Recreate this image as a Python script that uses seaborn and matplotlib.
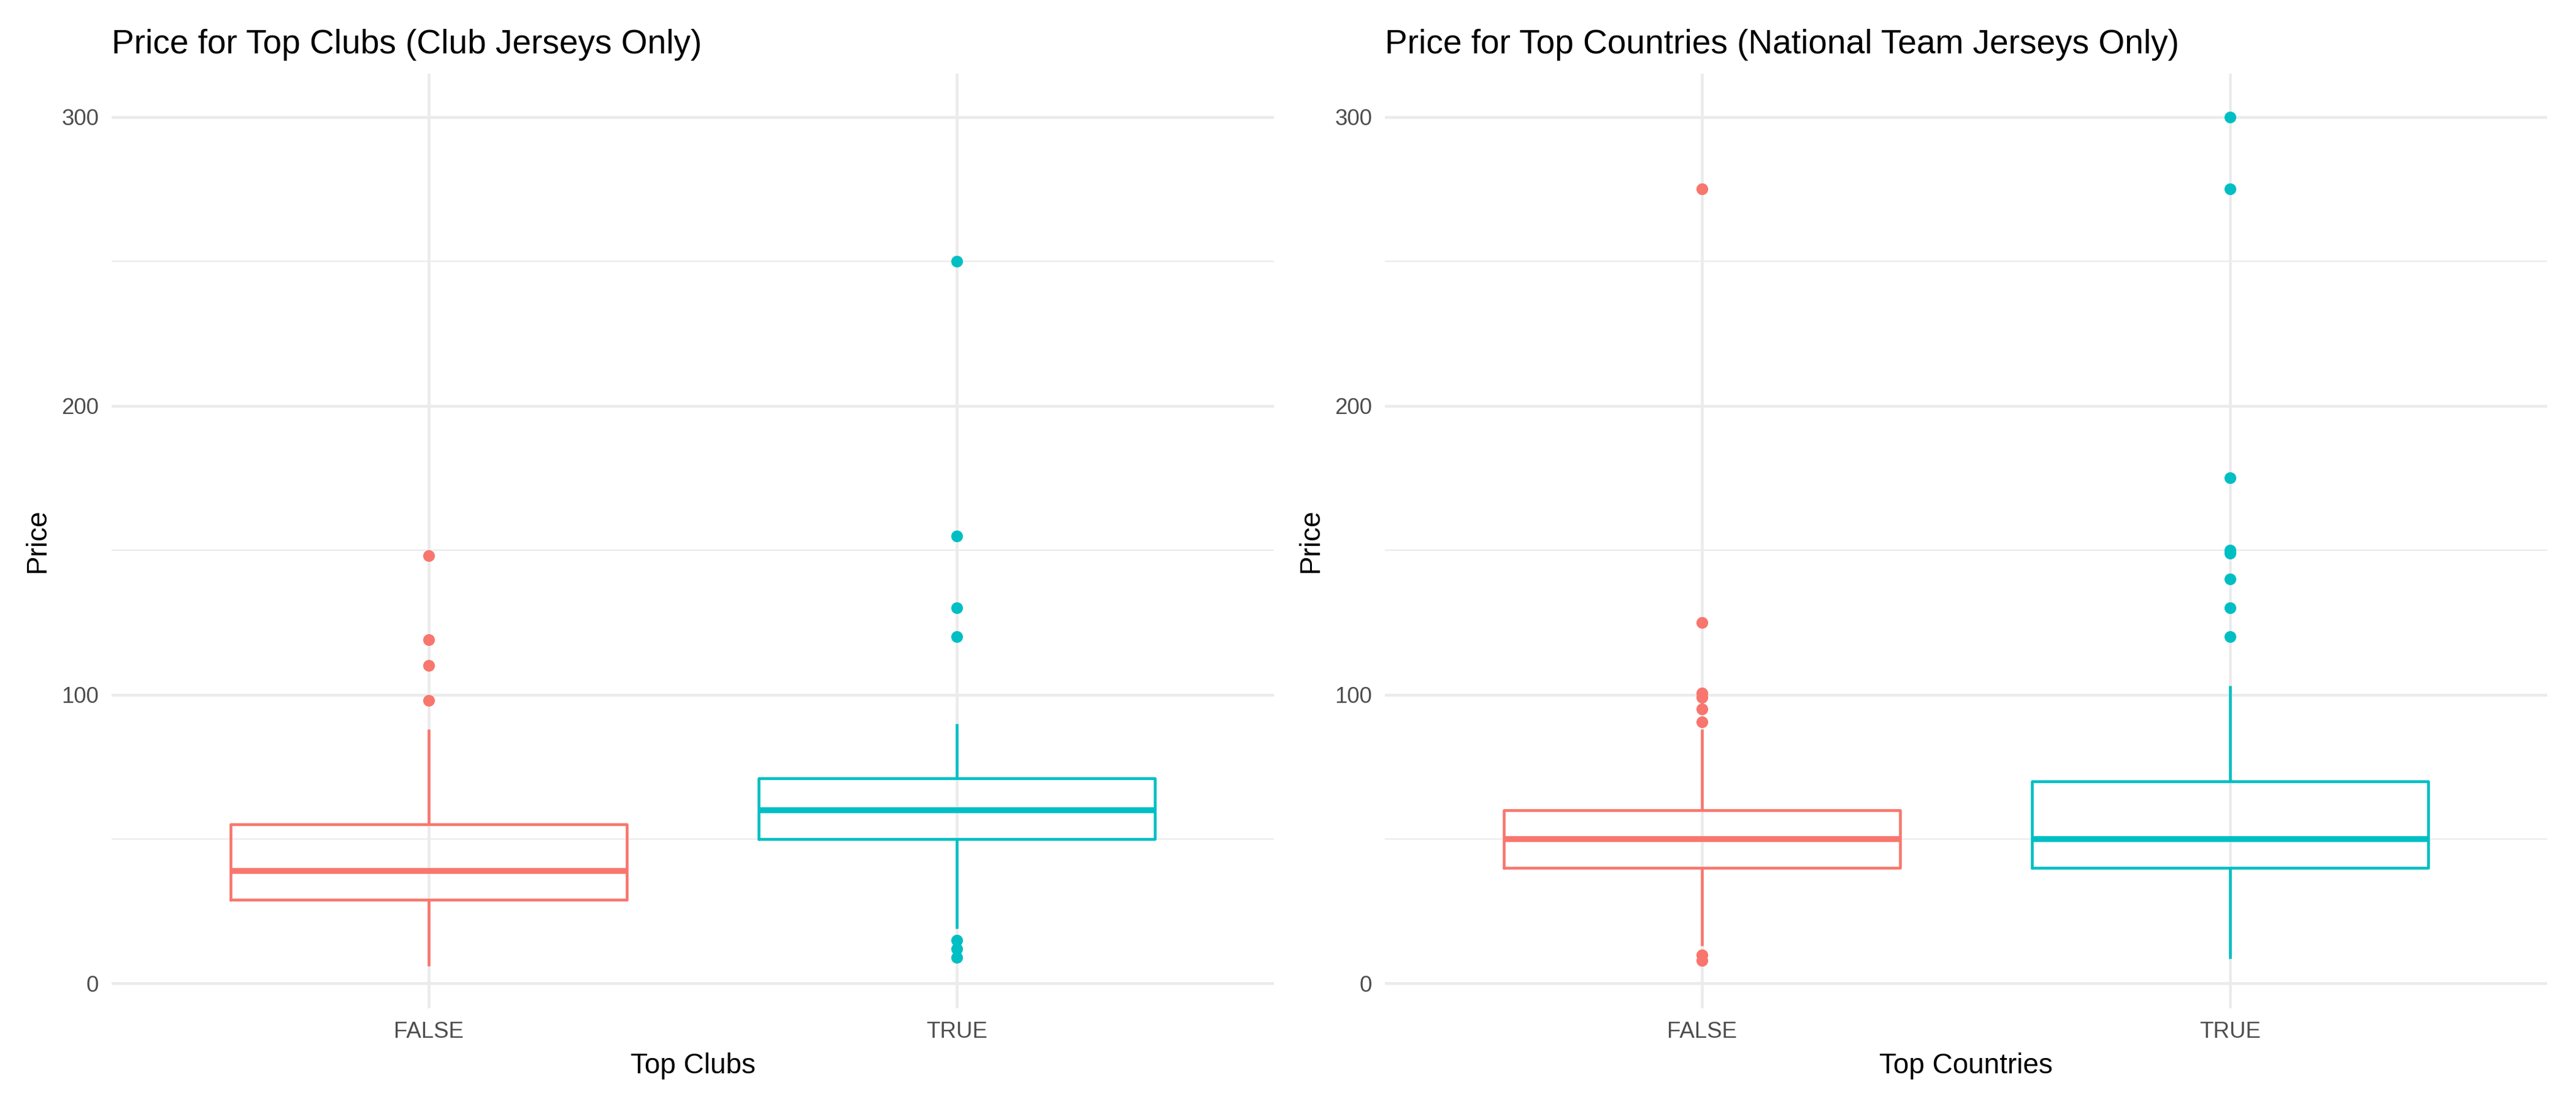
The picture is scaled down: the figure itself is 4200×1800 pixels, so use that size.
import matplotlib
matplotlib.use("Agg")
import matplotlib.pyplot as plt
import numpy as np
import pandas as pd
import seaborn as sns

# ---------------------------------------------------------------------------
# Data: jersey prices per group (built so the box stats match the picture)
# ---------------------------------------------------------------------------

club_false = [6, 12, 18, 22, 25, 28, 29, 30, 32, 35, 35, 38, 39,
              40, 45, 45, 50, 52, 55, 65, 88, 98, 110, 119, 148]
club_true = [9, 12, 15, 19, 35, 45, 50, 50, 55, 55, 58, 60, 60,
             60, 65, 65, 70, 70, 71, 80, 90, 120, 130, 155, 250]

country_false = [8, 9.8, 13, 20, 25, 30, 35, 40, 40, 45, 45, 45, 50, 50, 50,
                 50, 55, 55, 60, 60, 60, 60, 88, 90.5, 95, 99, 100.5, 125, 275]
country_true = [8.5, 15, 20, 25, 30, 35, 35, 40, 40, 40, 40, 45, 45, 45, 50,
                50, 50, 50, 50, 50, 55, 55, 60, 60, 65, 70, 70, 70,
                103, 120, 130, 140, 149, 150, 175, 275, 300]

groups = ["FALSE", "TRUE"]
colors = ["#F8766D", "#00BFC4"]

titles = ["Price for Top Clubs (Club Jerseys Only)",
          "Price for Top Countries (National Team Jerseys Only)"]
xlabels = ["Top Clubs", "Top Countries"]
yticks = [0, 100, 200, 300]
yminor = [50, 150, 250]


def make_frame(false_vals, true_vals):
    return pd.DataFrame({
        "top": ["FALSE"] * len(false_vals) + ["TRUE"] * len(true_vals),
        "price": list(false_vals) + list(true_vals),
    })


frames = [make_frame(club_false, club_true),
          make_frame(country_false, country_true)]

# ---------------------------------------------------------------------------
# Figure
# ---------------------------------------------------------------------------

sns.set_style("white")
plt.rcParams["font.family"] = ["Liberation Sans", "DejaVu Sans"]
plt.rcParams["text.color"] = "black"
plt.rcParams["axes.labelcolor"] = "black"

fig = plt.figure(figsize=(14, 6), dpi=300)
axes = [fig.add_axes([182 / 4200, 0.0867, 1895 / 4200, 0.8466]),
        fig.add_axes([2258 / 4200, 0.0867, 1895 / 4200, 0.8466])]

grid_col = "#EBEBEB"

for ax, df, title, xlab in zip(axes, frames, titles, xlabels):
    # light grid like a minimal theme, drawn under the boxes
    for v in yticks:
        ax.axhline(v, color=grid_col, linewidth=1.1, zorder=0)
    for v in yminor:
        ax.axhline(v, color=grid_col, linewidth=0.55, zorder=0)
    for i in range(len(groups)):
        ax.axvline(i, color=grid_col, linewidth=1.1, zorder=0)

    sns.boxplot(
        data=df, x="top", y="price", hue="top", order=groups,
        hue_order=groups, palette=colors, fill=False, width=0.75,
        linewidth=1.1, showcaps=False, legend=False, ax=ax,
        medianprops={"linewidth": 2.3},
        flierprops={"marker": "o", "markersize": 4.6, "markeredgewidth": 0},
    )

    # filled outlier dots in the colour of their group
    for line in ax.lines:
        if line.get_marker() == "o" and len(line.get_xdata()) > 0:
            idx = int(round(float(np.mean(line.get_xdata()))))
            line.set_markerfacecolor(colors[idx])
            line.set_markeredgecolor(colors[idx])

    ax.set_xlim(-0.6, 1.6)
    ax.set_ylim(-8.6, 315)
    ax.set_yticks(yticks)
    ax.grid(False)
    for s in ax.spines.values():
        s.set_visible(False)
    ax.tick_params(axis="both", length=0, labelsize=8.8, labelcolor="#4D4D4D")
    ax.tick_params(axis="y", pad=5)
    ax.tick_params(axis="x", pad=5)

    ax.set_title(title, loc="left", fontsize=13.2, pad=8, color="black")
    ax.set_xlabel(xlab, fontsize=11, labelpad=4, color="black")
    ax.set_ylabel("Price", fontsize=11, labelpad=4, color="black")

fig.savefig("out.png", dpi=300)
plt.close(fig)
